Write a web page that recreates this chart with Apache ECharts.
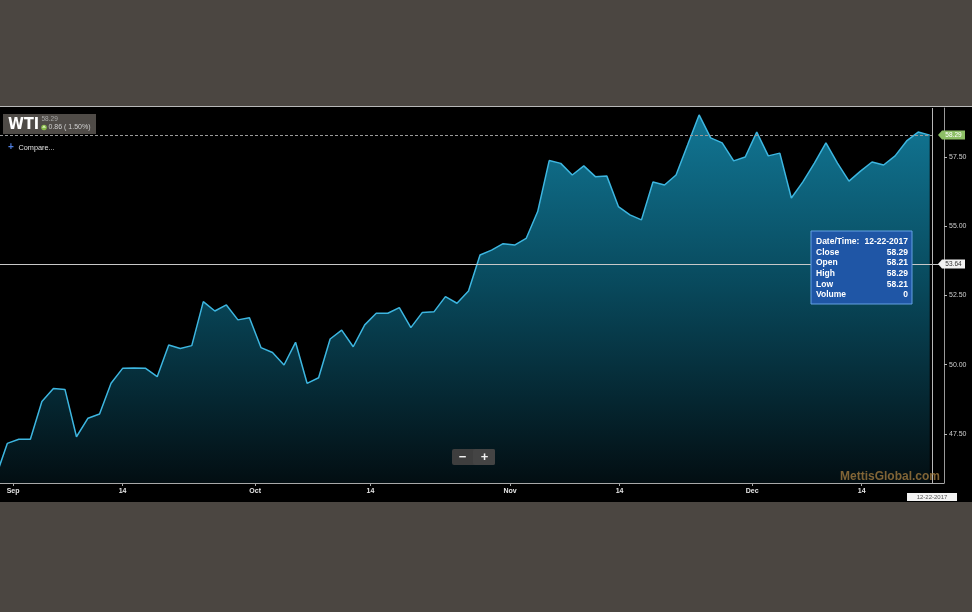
<!DOCTYPE html>
<html><head><meta charset="utf-8">
<script src="https://cdn.jsdelivr.net/npm/echarts@6/dist/echarts.min.js"></script>
<style>
html,body{margin:0;padding:0;background:#4b4641;}
#panel{position:absolute;left:0;top:106px;width:972px;height:396px;background:#000;border-top:1.5px solid #b8b8b8;box-sizing:border-box;}
#c{position:absolute;left:0;top:0;width:972px;height:612px;}
</style>
</head><body><div id="panel"></div><div id="c"></div>
<script>
// ---- data ----
const symbolName = 'WTI';
const closes = [45.95, 47.16, 47.31, 47.31, 48.67, 49.14, 49.11, 47.40, 48.07, 48.22,
  49.33, 49.87, 49.88, 49.87, 49.57, 50.71, 50.59, 50.69, 52.28, 51.94,
  52.16, 51.62, 51.70, 50.62, 50.44, 49.99, 50.81, 49.33, 49.53, 50.93,
  51.25, 50.65, 51.44, 51.86, 51.86, 52.06, 51.34, 51.89, 51.91, 52.46,
  52.22, 52.66, 53.96, 54.14, 54.37, 54.32, 54.56, 55.53, 57.37, 57.27,
  56.85, 57.18, 56.79, 56.81, 55.71, 55.41, 55.23, 56.60, 56.49, 56.85,
  57.93, 59.02, 58.19, 58.01, 57.36, 57.50, 58.40, 57.54, 57.64, 56.02,
  56.60, 57.28, 58.01, 57.28, 56.63, 56.99, 57.32, 57.21, 57.54, 58.08,
  58.40, 58.29];
const firstIndex = -1;
const tickPos = [0.5, 10, 21.5, 31.5, 43.6, 53.1, 64.6, 74.1];
const tickLabels = ['Sep', '14', 'Oct', '14', 'Nov', '14', 'Dec', '14'];
const yTicks = [47.5, 50, 52.5, 55, 57.5];
const lastDate = '12-22-2017';
const changeText = '0.86 ( 1.50%)';
const crossValue = 53.64;
const tipLabels = ['Date/Time:', 'Close', 'Open', 'High', 'Low', 'Volume'];
const tipValues = ['12-22-2017', '58.29', '58.21', '58.29', '58.21', '0'];

// ---- chart ----
const FONT = 'Liberation Sans';
const lastIdx = firstIndex + closes.length - 1;
const lastClose = closes[closes.length - 1];
const xMin = -0.633, xMax = 81.24;
const yMin = 45.731, yMax = 59.269;
const seriesData = closes.map((v, i) => [firstIndex + i, v]);

const chart = echarts.init(document.getElementById('c'), null, {renderer: 'canvas'});
const option = {
  backgroundColor: 'transparent',
  animation: false,
  grid: {left: 0, right: 28, top: 108, bottom: 129},
  xAxis: {
    type: 'value', min: xMin, max: xMax,
    splitLine: {show: false},
    axisLine: {show: true, onZero: false, lineStyle: {color: '#a8a8a8', width: 1}},
    axisTick: {show: true, length: 3, customValues: tickPos, lineStyle: {color: '#a8a8a8'}},
    axisLabel: {
      customValues: tickPos, margin: 5, color: '#e6e6e6', fontSize: 7, fontWeight: 'bold', fontFamily: FONT,
      formatter: function (v) {
        for (let i = 0; i < tickPos.length; i++) if (Math.abs(tickPos[i] - v) < 1e-6) return tickLabels[i];
        return '';
      }
    }
  },
  yAxis: {
    type: 'value', position: 'right', min: yMin, max: yMax, scale: true,
    splitLine: {show: false},
    axisLine: {show: true, onZero: false, lineStyle: {color: '#9a9a9a', width: 1}},
    axisTick: {show: true, length: 3, customValues: yTicks, lineStyle: {color: '#bbb'}},
    axisLabel: {
      customValues: yTicks, margin: 5, color: '#cfcfcf', fontSize: 7, fontFamily: FONT,
      formatter: v => v.toFixed(2)
    }
  },
  series: [{
    type: 'line',
    z: 2,
    data: seriesData,
    symbol: 'none',
    lineStyle: {color: '#3db6e0', width: 1.5},
    areaStyle: {
      color: new echarts.graphic.LinearGradient(0, 0, 0, 1, [
        {offset: 0, color: '#19a9d4'},
        {offset: 0.45, color: '#0c6a86'},
        {offset: 1, color: '#04141a'}
      ])
    },
    markLine: {
      silent: true, symbol: ['none', 'none'], label: {show: false},
      data: [
        [{coord: [xMin, lastClose], lineStyle: {color: '#9a9a9a', type: [3, 2], width: 1}},
         {coord: [lastIdx + 0.2, lastClose]}],
        [{coord: [xMin, crossValue], lineStyle: {color: '#c8c8c8', type: 'solid', width: 1}},
         {coord: [xMax, crossValue]}],
        [{coord: [lastIdx + 0.2, yMin], lineStyle: {color: '#b8b8b8', type: 'solid', width: 1}},
         {coord: [lastIdx + 0.2, yMax]}]
      ]
    }
  }]
};
chart.setOption(option);

const pLast = chart.convertToPixel({gridIndex: 0}, [lastIdx + 0.2, lastClose]);
const pCross = chart.convertToPixel({gridIndex: 0}, [lastIdx + 0.2, crossValue]);
const pBottom = chart.convertToPixel({gridIndex: 0}, [lastIdx + 0.2, yMin]);

function liftZ(el) { // lift element and children above the series
  el.z = 100;
  if (el.children) el.children.forEach(liftZ);
  return el;
}

function tag(y, fill, textColor, text) {
  return {
    type: 'group', children: [
      {type: 'polygon', shape: {points: [[938, y], [942, y - 4.5], [965, y - 4.5], [965, y + 4.5], [942, y + 4.5]]},
       style: {fill: fill}},
      {type: 'text', x: 953.5, y: y, style: {text: text, fill: textColor, font: '6.5px ' + FONT,
        align: 'center', verticalAlign: 'middle'}}
    ]
  };
}

const tipX = 811, tipY = 231, tipW = 101, tipH = 73;
const tipChildren = [{type: 'rect', shape: {x: tipX, y: tipY, width: tipW, height: tipH},
  style: {fill: '#1f56a6', stroke: '#64a0e4', lineWidth: 1}}];
tipLabels.forEach((lab, i) => {
  const yy = tipY + 10.5 + i * 10.7;
  tipChildren.push({type: 'text', x: tipX + 5, y: yy, style: {text: lab, fill: '#fff',
    font: 'bold 8.5px ' + FONT, align: 'left', verticalAlign: 'middle'}});
  tipChildren.push({type: 'text', x: tipX + tipW - 4, y: yy, style: {text: tipValues[i], fill: '#fff',
    font: 'bold 8.5px ' + FONT, align: 'right', verticalAlign: 'middle'}});
});

const graphics = [
  // WTI header box
  {type: 'group', children: [
    {type: 'rect', shape: {x: 3, y: 114, width: 93, height: 20}, style: {fill: '#4f4b47'}},
    {type: 'text', x: 8, y: 124.5, style: {text: symbolName, fill: '#fff',
      font: 'bold 16px "DejaVu Sans Condensed"', align: 'left', verticalAlign: 'middle'}},
    {type: 'text', x: 41.5, y: 119.5, style: {text: lastClose.toFixed(2), fill: '#a9a9a9',
      font: '6.5px ' + FONT, align: 'left', verticalAlign: 'middle'}},
    {type: 'circle', shape: {cx: 44, cy: 127.5, r: 2.8}, style: {fill: '#86b84a'}},
    {type: 'polygon', shape: {points: [[44, 125.3], [46, 127.8], [42, 127.8]]}, style: {fill: '#d9f0b8'}},
    {type: 'text', x: 48.5, y: 127.5, style: {text: changeText, fill: '#cfcfcf',
      font: '7px ' + FONT, align: 'left', verticalAlign: 'middle'}}
  ]},
  // Compare
  {type: 'text', x: 8, y: 147, style: {text: '+', fill: '#4f7fe0', font: 'bold 10px ' + FONT,
    align: 'left', verticalAlign: 'middle'}},
  {type: 'text', x: 18.5, y: 147.5, style: {text: 'Compare...', fill: '#e0e0e0', font: '7.3px ' + FONT,
    align: 'left', verticalAlign: 'middle'}},
  // zoom buttons
  {type: 'group', children: [
    {type: 'rect', shape: {x: 452, y: 449, width: 43, height: 16, r: 2}, style: {fill: '#3e3e3e'}},
    {type: 'rect', shape: {x: 473, y: 449, width: 22, height: 16, r: 2}, style: {fill: '#444444'}},
    {type: 'text', x: 462.5, y: 457, style: {text: '−', fill: '#f0f0f0', font: 'bold 13px ' + FONT,
      align: 'center', verticalAlign: 'middle'}},
    {type: 'text', x: 484.5, y: 457, style: {text: '+', fill: '#f0f0f0', font: 'bold 13px ' + FONT,
      align: 'center', verticalAlign: 'middle'}}
  ]},
  // watermark
  {type: 'text', x: 940, y: 476.5, style: {text: 'MettisGlobal.com', fill: 'rgba(150,115,60,0.85)',
    font: 'bold 12px ' + FONT, align: 'right', verticalAlign: 'middle'}},
  // tooltip
  {type: 'group', children: tipChildren},
  // tags
  tag(pLast[1], '#8dbf66', '#ffffff', lastClose.toFixed(2)),
  tag(pCross[1], '#f2f2f2', '#333333', crossValue.toFixed(2)),
  // date tag
  {type: 'group', children: [
    {type: 'rect', shape: {x: pBottom[0] - 25, y: 493, width: 50, height: 8}, style: {fill: '#f4f4f4'}},
    {type: 'text', x: pBottom[0], y: 497.2, style: {text: lastDate, fill: '#555', font: '6px ' + FONT,
      align: 'center', verticalAlign: 'middle'}}
  ]}
].map(liftZ);

chart.setOption({graphic: graphics});
</script>
</body></html>
